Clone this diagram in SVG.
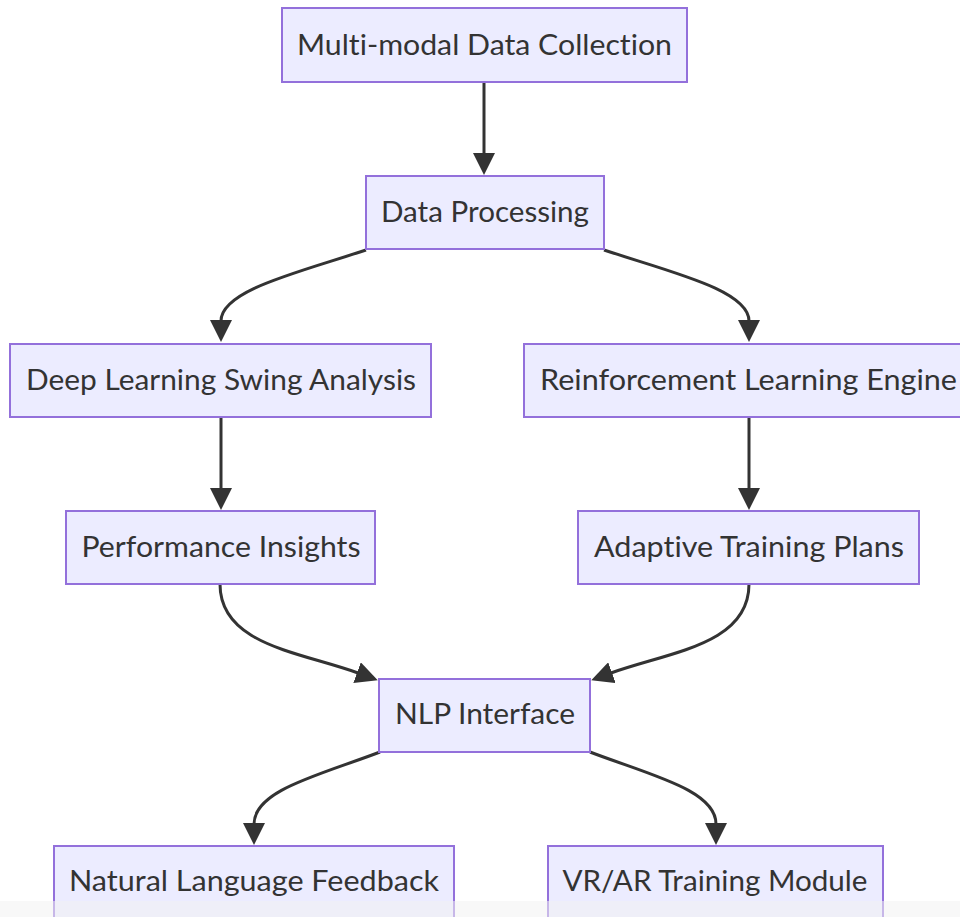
<svg xmlns="http://www.w3.org/2000/svg" width="960" height="917" viewBox="0 0 960 917">
<style>
.node rect{fill:#ECECFF;stroke:#9370DB;stroke-width:2}
.node text{font-family:Lato,"Open Sans","DejaVu Sans",sans-serif;font-size:28.5px;fill:#333;text-anchor:middle;font-variant-ligatures:none}
.edge{fill:none;stroke:#333;stroke-width:3;marker-end:url(#arrow)}
</style>
<defs>
<marker id="arrow" markerUnits="userSpaceOnUse" viewBox="0 0 22 22" markerWidth="22" markerHeight="22" refX="1" refY="11" orient="auto">
<path d="M0,0 L22,11 L0,22 z" fill="#333"/>
</marker>
</defs>
<rect width="960" height="917" fill="#fff"/>
<g id="connectors">
<path class="edge" d="M484,82 L484,154"/>
<path class="edge" d="M366,250 C300,272 221,290 221,321"/>
<path class="edge" d="M604,250 C670,272 749,290 749,321"/>
<path class="edge" d="M221,417 L221,489"/>
<path class="edge" d="M749,417 L749,489"/>
<path class="edge" d="M220,584 C220,645 300,652 358,673"/>
<path class="edge" d="M749,584 C749,645 669,652 611,673"/>
<path class="edge" d="M380,752 C320,775 254,790 254,824"/>
<path class="edge" d="M590,752 C650,775 716,790 716,824"/>
</g>
<g id="n1" class="node"><rect x="282" y="8" width="405" height="74"/><text x="484.5" y="55" textLength="375" lengthAdjust="spacingAndGlyphs">Multi-modal Data Collection</text></g>
<g id="n2" class="node"><rect x="366" y="176" width="238" height="73"/><text x="485" y="222" textLength="208" lengthAdjust="spacingAndGlyphs">Data Processing</text></g>
<g id="n3" class="node"><rect x="10" y="344" width="421" height="73"/><text x="221" y="390" textLength="390" lengthAdjust="spacingAndGlyphs">Deep Learning Swing Analysis</text></g>
<g id="n4" class="node"><rect x="524" y="344" width="449" height="73"/><text x="748.5" y="390" textLength="417" lengthAdjust="spacingAndGlyphs">Reinforcement Learning Engine</text></g>
<g id="n5" class="node"><rect x="66" y="511" width="309" height="73"/><text x="221" y="557" textLength="279" lengthAdjust="spacingAndGlyphs">Performance Insights</text></g>
<g id="n6" class="node"><rect x="578" y="511" width="341" height="73"/><text x="749" y="557" textLength="310" lengthAdjust="spacingAndGlyphs">Adaptive Training Plans</text></g>
<g id="n7" class="node"><rect x="379" y="679" width="211" height="73"/><text x="485" y="724" textLength="180" lengthAdjust="spacingAndGlyphs">NLP Interface</text></g>
<g id="n8" class="node"><rect x="54" y="846" width="400" height="74"/><text x="254" y="891" textLength="370" lengthAdjust="spacingAndGlyphs">Natural Language Feedback</text></g>
<g id="n9" class="node"><rect x="548" y="846" width="335" height="74"/><text x="715" y="891" textLength="305" lengthAdjust="spacingAndGlyphs">VR/AR Training Module</text></g>
<rect x="0" y="901" width="960" height="16" fill="#f2f2f2" opacity="0.55"/>
</svg>
